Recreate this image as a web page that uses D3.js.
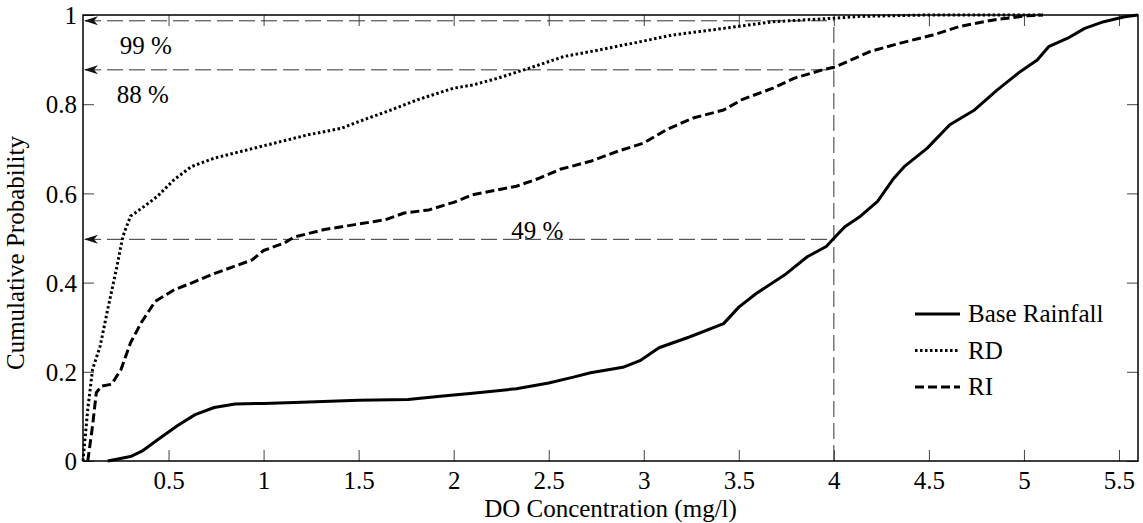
<!DOCTYPE html>
<html>
<head>
<meta charset="utf-8">
<script src="https://cdn.jsdelivr.net/npm/d3@7/dist/d3.min.js"></script>
<style>
  html, body { margin: 0; padding: 0; background: #fff; }
  svg { display: block; }
  text { font-family: "Liberation Serif", "Times New Roman", serif; fill: #000; }
</style>
</head>
<body>
<svg id="chart" width="1143" height="523"></svg>
<script>
// ---------- data ----------
const baseX = [0.18, 0.30, 0.36, 0.45, 0.55, 0.64, 0.74, 0.85, 1.00, 1.20, 1.50, 1.76, 1.93, 2.10, 2.33, 2.50, 2.63, 2.72, 2.89, 2.98, 3.08, 3.24, 3.42, 3.50, 3.59, 3.75, 3.86, 3.96, 4.01, 4.06, 4.14, 4.23, 4.31, 4.37, 4.49, 4.61, 4.74, 4.86, 4.98, 5.07, 5.13, 5.23, 5.32, 5.42, 5.53, 5.60];
const baseP = [0.000, 0.010, 0.022, 0.050, 0.080, 0.104, 0.120, 0.128, 0.129, 0.132, 0.136, 0.138, 0.145, 0.152, 0.162, 0.175, 0.188, 0.198, 0.210, 0.225, 0.254, 0.278, 0.308, 0.345, 0.375, 0.420, 0.458, 0.481, 0.504, 0.526, 0.549, 0.582, 0.631, 0.660, 0.701, 0.754, 0.787, 0.832, 0.873, 0.899, 0.929, 0.948, 0.970, 0.985, 0.996, 1.000];

const rdX = [0.05, 0.075, 0.10, 0.14, 0.18, 0.225, 0.26, 0.30, 0.36, 0.44, 0.53, 0.62, 0.74, 0.88, 1.06, 1.23, 1.41, 1.50, 1.67, 1.81, 2.00, 2.10, 2.23, 2.42, 2.58, 2.77, 2.98, 3.15, 3.42, 3.68, 4.01, 4.14, 4.50, 5.10];
const rdP = [0.000, 0.116, 0.205, 0.257, 0.340, 0.429, 0.504, 0.549, 0.567, 0.593, 0.631, 0.660, 0.679, 0.694, 0.713, 0.731, 0.746, 0.761, 0.787, 0.810, 0.836, 0.843, 0.858, 0.884, 0.907, 0.922, 0.940, 0.955, 0.970, 0.985, 0.993, 0.997, 1.000, 1.000];

const riX = [0.075, 0.10, 0.12, 0.146, 0.20, 0.25, 0.30, 0.356, 0.43, 0.53, 0.62, 0.74, 0.85, 0.94, 1.00, 1.11, 1.16, 1.32, 1.48, 1.64, 1.74, 1.87, 2.00, 2.10, 2.33, 2.45, 2.56, 2.72, 2.86, 3.00, 3.12, 3.26, 3.42, 3.52, 3.68, 3.79, 3.94, 4.01, 4.19, 4.35, 4.52, 4.66, 4.84, 5.01, 5.10];
const riP = [0.000, 0.078, 0.153, 0.168, 0.172, 0.205, 0.265, 0.310, 0.358, 0.384, 0.399, 0.420, 0.437, 0.451, 0.472, 0.489, 0.502, 0.519, 0.530, 0.541, 0.556, 0.563, 0.580, 0.597, 0.616, 0.634, 0.654, 0.672, 0.694, 0.713, 0.743, 0.769, 0.787, 0.811, 0.836, 0.858, 0.877, 0.884, 0.918, 0.937, 0.955, 0.974, 0.989, 0.998, 1.000];

const seriesNames = ["Base Rainfall", "RD", "RI"];
const xTicks = [0.5, 1, 1.5, 2, 2.5, 3, 3.5, 4, 4.5, 5, 5.5];
const yTicks = [0, 0.2, 0.4, 0.6, 0.8, 1];
const xDomain = [0.05, 5.6];
const yDomain = [0, 1];

// reference (annotation) lines
const refX = 4;
const refLevels = [0.987, 0.877, 0.497];
const refLabels = ["99 %", "88 %", "49 %"];
const refLabelX = [0.38, 0.365, 2.44];
const refLabelP = [0.912, 0.803, 0.497];

// ---------- layout ----------
const svg = d3.select("#chart");
const m = { left: 83, right: 1138, top: 15, bottom: 461 };
const x = d3.scaleLinear().domain(xDomain).range([m.left, m.right]);
const y = d3.scaleLinear().domain(yDomain).range([m.bottom, m.top]);

const fontSize = 25;

// axes (ticks inside, all four sides)
const tickLen = 11;
const gx = svg.append("g").attr("transform", `translate(0,${m.bottom})`)
  .call(d3.axisBottom(x).tickValues(xTicks).tickSize(-tickLen).tickPadding(tickLen + 12).tickFormat(d3.format("")));
const gy = svg.append("g").attr("transform", `translate(${m.left},0)`)
  .call(d3.axisLeft(y).tickValues(yTicks).tickSize(-tickLen).tickPadding(6).tickFormat(d3.format("")));
const gx2 = svg.append("g").attr("transform", `translate(0,${m.top})`)
  .call(d3.axisTop(x).tickValues(xTicks).tickSize(-tickLen).tickFormat(""));
const gy2 = svg.append("g").attr("transform", `translate(${m.right},0)`)
  .call(d3.axisRight(y).tickValues(yTicks).tickSize(-tickLen).tickFormat(""));

[gx, gy, gx2, gy2].forEach(g => {
  g.select(".domain").remove();
  g.selectAll(".tick line").attr("stroke", "#444").attr("stroke-width", 1);
  g.selectAll(".tick text").attr("font-size", fontSize).attr("font-family", "Liberation Serif").attr("fill", "#000");
});
gx.selectAll(".tick text").attr("dy", "0.2em");
gy.selectAll(".tick text").attr("dy", "0.35em");

// reference dashed lines
const refG = svg.append("g");
refLevels.forEach((lv, i) => {
  refG.append("line")
    .attr("x1", x(xDomain[0]) + 2).attr("x2", x(refX))
    .attr("y1", y(lv)).attr("y2", y(lv))
    .attr("stroke", "#333").attr("stroke-width", 1).attr("stroke-dasharray", "16,6");
  const tx = x(xDomain[0]) + 1, ty = y(lv);
  refG.append("path")
    .attr("d", `M${tx},${ty} L${tx + 14},${ty - 4.5} L${tx + 10},${ty} L${tx + 14},${ty + 4.5} Z`)
    .attr("fill", "#111");
  refG.append("text")
    .attr("x", x(refLabelX[i])).attr("y", y(refLabelP[i]))
    .attr("text-anchor", "middle").attr("font-size", fontSize)
    .text(refLabels[i]);
});
refG.append("line")
  .attr("x1", x(refX)).attr("x2", x(refX))
  .attr("y1", y(0)).attr("y2", y(refLevels[0]))
  .attr("stroke", "#333").attr("stroke-width", 1).attr("stroke-dasharray", "16,6");

// curves
const styles = [
  { dash: null },
  { dash: "2.5,2.5" },
  { dash: "9,4" }
];
const seriesData = [
  baseX.map((v, i) => [v, baseP[i]]),
  rdX.map((v, i) => [v, rdP[i]]),
  riX.map((v, i) => [v, riP[i]])
];
const line = d3.line().x(d => x(d[0])).y(d => y(d[1]));
seriesData.forEach((d, i) => {
  svg.append("path").datum(d)
    .attr("d", line)
    .attr("fill", "none").attr("stroke", "#000").attr("stroke-width", 3)
    .attr("stroke-linejoin", "round")
    .attr("stroke-dasharray", styles[i].dash);
});

// plot box
svg.append("rect")
  .attr("x", m.left).attr("y", m.top)
  .attr("width", m.right - m.left).attr("height", m.bottom - m.top)
  .attr("fill", "none").attr("stroke", "#000").attr("stroke-width", 1.5);

// legend
const leg = svg.append("g");
seriesNames.forEach((name, i) => {
  const ly = 314 + i * 36.5;
  leg.append("line").attr("x1", 915).attr("x2", 960).attr("y1", ly).attr("y2", ly)
    .attr("stroke", "#000").attr("stroke-width", 3).attr("stroke-dasharray", styles[i].dash);
  leg.append("text").attr("x", 968).attr("y", ly).attr("dy", "0.33em")
    .attr("font-size", fontSize).text(name);
});

// axis titles
svg.append("text")
  .attr("x", (m.left + m.right) / 2).attr("y", 517)
  .attr("text-anchor", "middle").attr("font-size", fontSize)
  .text("DO Concentration (mg/l)");
svg.append("text")
  .attr("transform", `translate(24,${(m.top + m.bottom) / 2 + 15}) rotate(-90)`)
  .attr("text-anchor", "middle").attr("font-size", fontSize)
  .text("Cumulative Probability");
</script>
</body>
</html>
